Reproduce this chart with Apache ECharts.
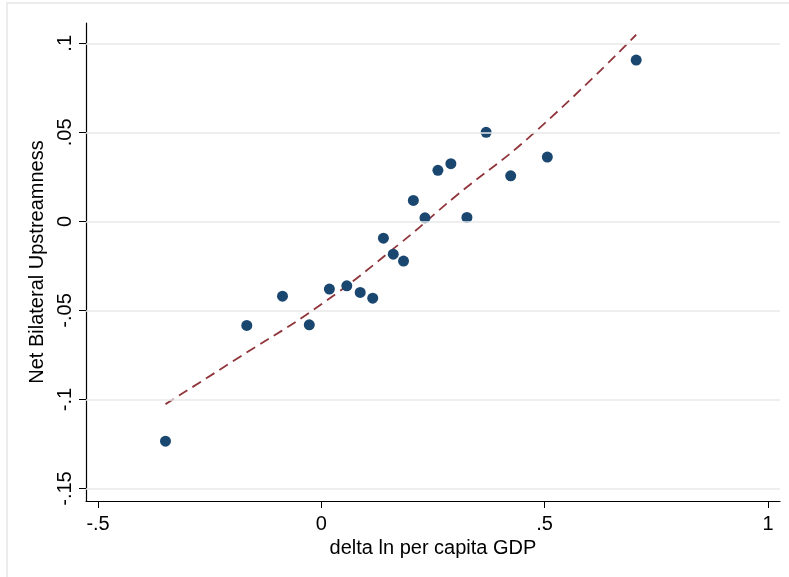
<!DOCTYPE html>
<html lang="en">
<head>
  <meta charset="UTF-8">
  <title>Upstreamness</title>
  <script src="https://cdn.jsdelivr.net/npm/echarts@6/dist/echarts.min.js"></script>
</head>
<style>
  * {
    margin: 0px;
    padding: 0px;
  }

  #main {
    width: 789px;
    height: 577px;
    background: #fff;
  }
</style>
<body>
  <div id="main"></div>
</body>
<script>
  // scatter points
  var gdpDelta = [-0.349, -0.167, -0.087, -0.027, 0.018, 0.057, 0.087, 0.115, 0.139, 0.161,
    0.184, 0.206, 0.232, 0.261, 0.290, 0.326, 0.369, 0.424, 0.506, 0.705];
  var upstream = [-0.1234, -0.0584, -0.0420, -0.0581, -0.0380, -0.0362, -0.0399, -0.0431, -0.0094, -0.0184,
    -0.0223, 0.0118, 0.0020, 0.0287, 0.0324, 0.0022, 0.0500, 0.0256, 0.0361, 0.0906];

  // fitted curve, sampled from the dashed line
  var fitX = [-0.349, -0.182, 0.0, 0.176, 0.300, 0.475, 0.705];
  var fitY = [-0.1026, -0.0760, -0.0465, -0.0124, 0.0140, 0.0494, 0.1048];

  // tick values and labels
  var xTicks = [-0.5, 0, 0.5, 1];
  var xTickText = ['-.5', '0', '.5', '1'];
  var yTicks = [-0.15, -0.1, -0.05, 0, 0.05, 0.1];
  var yTickText = ['-.15', '-.1', '-.05', '0', '.05', '.1'];

  var chart = echarts.init(document.getElementById('main'));
  var font = 'Liberation Sans, Arial, sans-serif';

  var pts = gdpDelta.map(function (x, i) { return [x, upstream[i]]; });
  var fit = fitX.map(function (x, i) { return [x, fitY[i]]; });

  function tickLabel(vals, texts) {
    return function (v) {
      for (var i = 0; i < vals.length; i++) {
        if (Math.abs(vals[i] - v) < 1e-9) return texts[i];
      }
      return '';
    };
  }

  chart.setOption({
    animation: false,
    graphic: [{
      type: 'rect',
      shape: { x: 7, y: 3, width: 800, height: 600 },
      style: { fill: 'none', stroke: '#e6e6e6', lineWidth: 1.5 },
      silent: true
    }],
    grid: {
      left: 86,
      right: 9,
      top: 23,
      bottom: 76
    },
    xAxis: {
      type: 'value',
      min: -0.527,
      max: 1.027,
      name: 'delta ln per capita GDP',
      nameLocation: 'middle',
      nameGap: 36,
      nameTextStyle: { fontFamily: font, fontSize: 20, color: '#000' },
      axisLine: { onZero: false, lineStyle: { color: '#000', width: 1.2 } },
      axisTick: { show: true, length: 7, customValues: xTicks, lineStyle: { color: '#000' } },
      axisLabel: {
        customValues: xTicks,
        formatter: tickLabel(xTicks, xTickText),
        fontFamily: font, fontSize: 20, color: '#000', margin: 13
      },
      splitLine: { show: false }
    },
    yAxis: {
      type: 'value',
      min: -0.157,
      max: 0.1114,
      name: 'Net Bilateral Upstreamness',
      nameLocation: 'middle',
      nameGap: 33,
      nameTextStyle: { fontFamily: font, fontSize: 20, color: '#000' },
      axisLine: { show: true, onZero: false, lineStyle: { color: '#000', width: 1.2 } },
      axisTick: { show: true, length: 7, customValues: yTicks, lineStyle: { color: '#000' } },
      axisLabel: {
        customValues: yTicks,
        formatter: tickLabel(yTicks, yTickText),
        rotate: 90,
        fontFamily: font, fontSize: 20, color: '#000', margin: 11
      },
      splitLine: { show: false }
    },
    series: [{
      // horizontal grid lines at the y ticks
      type: 'line',
      data: [],
      silent: true,
      markLine: {
        symbol: 'none',
        silent: true,
        label: { show: false },
        lineStyle: { color: '#e8e8e8', width: 1.5, type: 'solid' },
        data: yTicks.map(function (v) { return { yAxis: v }; })
      }
    }, {
      name: 'scatter',
      type: 'scatter',
      symbolSize: 11,
      itemStyle: { color: '#1a476f', opacity: 1 },
      data: pts,
      z: 3
    }, {
      name: 'fit',
      type: 'line',
      smooth: true,
      showSymbol: false,
      lineStyle: { color: '#90353b', width: 1.8, type: [10, 6] },
      data: fit,
      z: 2
    }]
  });
</script>
</html>
